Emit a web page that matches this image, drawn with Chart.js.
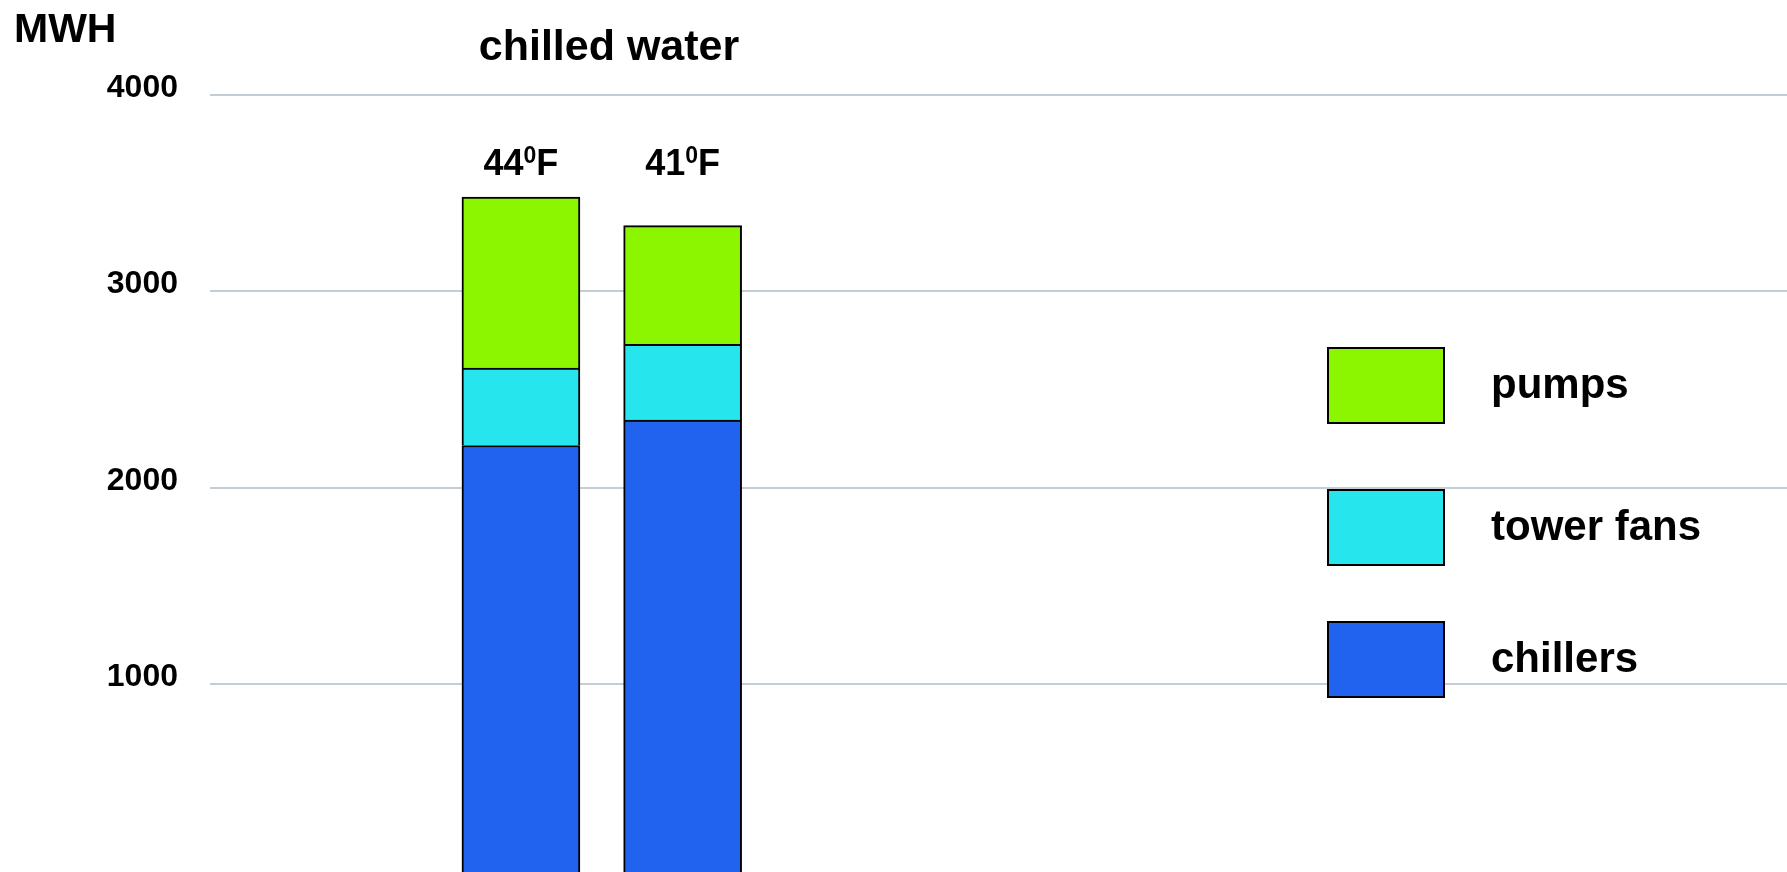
<!DOCTYPE html>
<html>
<head>
<meta charset="utf-8">
<title>chilled water</title>
<script src="https://cdn.jsdelivr.net/npm/chart.js@4/dist/chart.umd.min.js"></script>
<style>
  html, body { margin: 0; padding: 0; background: #fff; overflow: hidden; }
  #chart { display: block; }
</style>
</head>
<body>
<canvas id="chart" width="1787" height="900" style="width:1787px;height:900px"></canvas>
<script>
// ── Data ─────────────────────────────────────────────────────────────────────
const CATEGORIES = ['44⁰F', '41⁰F'];
const CHILLERS   = [2215, 2345];
const TOWER_FANS = [395, 385];
const PUMPS      = [870, 605];
const Y_TICKS    = [1000, 2000, 3000, 4000];
const Y_MIN      = 0;

const FONT = "'Liberation Sans', Arial, Helvetica, sans-serif";
const GREEN = 'rgb(140,245,0)';
const CYAN  = 'rgb(38,229,237)';
const BLUE  = 'rgb(33,98,239)';

// ── Title, unit label, category labels and legend drawn on the canvas ────────
const decorPlugin = {
  id: 'decor',
  afterDraw(chart) {
    const ctx = chart.ctx;
    ctx.save();
    ctx.fillStyle = '#000';
    ctx.textBaseline = 'alphabetic';

    // unit label
    ctx.textAlign = 'left';
    ctx.font = `bold 41px ${FONT}`;
    ctx.fillText('MWH', 14, 42);

    // title
    ctx.textAlign = 'center';
    ctx.font = `bold 43px ${FONT}`;
    ctx.fillText('chilled water', 609, 60);

    // category labels above the bars (superscript zero)
    const meta = chart.getDatasetMeta(0);
    CATEGORIES.forEach((label, i) => {
      const cx = meta.data[i].x;
      const [head, tail] = label.split('⁰');
      ctx.font = `bold 36px ${FONT}`;
      const wHead = ctx.measureText(head).width;
      const wTail = ctx.measureText(tail).width;
      ctx.font = `bold 23px ${FONT}`;
      const wSup = ctx.measureText('0').width;
      let x = cx - (wHead + wSup + wTail) / 2;
      ctx.textAlign = 'left';
      ctx.font = `bold 36px ${FONT}`;
      ctx.fillText(head, x, 175);
      x += wHead;
      ctx.font = `bold 23px ${FONT}`;
      ctx.fillText('0', x, 163);
      x += wSup;
      ctx.font = `bold 36px ${FONT}`;
      ctx.fillText(tail, x, 175);
    });

    // legend, top item is the top of the stack
    const tops = [347, 489, 621];
    const items = chart.data.datasets.slice().reverse();
    items.forEach((ds, i) => {
      const y = tops[i];
      ctx.fillStyle = '#000';
      ctx.fillRect(1327, y, 118, 77);
      ctx.fillStyle = ds.backgroundColor;
      ctx.fillRect(1329, y + 2, 114, 73);
      ctx.fillStyle = '#000';
      ctx.font = `bold 42px ${FONT}`;
      ctx.textAlign = 'left';
      ctx.fillText(ds.label, 1491, y + 51);
    });
    ctx.restore();
  }
};

// ── Chart ────────────────────────────────────────────────────────────────────
function seriesPoints(values) {
  return values.map((v, i) => ({ x: i + 1, y: v }));
}

function makeDataset(label, values, color) {
  return {
    label: label,
    data: seriesPoints(values),
    backgroundColor: color,
    borderColor: '#000',
    borderWidth: 2,
    borderSkipped: 'bottom',
    barThickness: 118,
  };
}

const chart = new Chart(document.getElementById('chart'), {
  type: 'bar',
  data: {
    datasets: [
      makeDataset('chillers', CHILLERS, BLUE),
      makeDataset('tower fans', TOWER_FANS, CYAN),
      makeDataset('pumps', PUMPS, GREEN),
    ],
  },
  options: {
    responsive: false,
    animation: false,
    devicePixelRatio: 1,
    layout: { padding: { top: 95, bottom: 19.5, left: 0, right: 0 } },
    plugins: {
      legend: { display: false },
      tooltip: { enabled: false },
      title: { display: false },
    },
    scales: {
      x: {
        type: 'linear',
        stacked: true,
        offset: false,
        bounds: 'data',
        min: -0.923,
        max: 8.83,
        grid: { offset: false },
        display: false,
      },
      y: {
        stacked: true,
        min: Y_MIN,
        max: Y_TICKS[Y_TICKS.length - 1],
        afterFit: scale => {
          scale.width = 210;
          scale.paddingTop = 0;
          scale.paddingBottom = 0;
        },
        afterBuildTicks: scale => { scale.ticks = Y_TICKS.map(v => ({ value: v })); },
        border: { display: false },
        grid: { color: '#c4ccd4', lineWidth: 2, drawTicks: false },
        ticks: {
          color: '#000',
          font: { family: FONT, size: 32, weight: 'bold' },
          padding: 32,
          labelOffset: -7,
          callback: v => String(v),
        },
      },
    },
  },
  plugins: [decorPlugin],
});
</script>
</body>
</html>
